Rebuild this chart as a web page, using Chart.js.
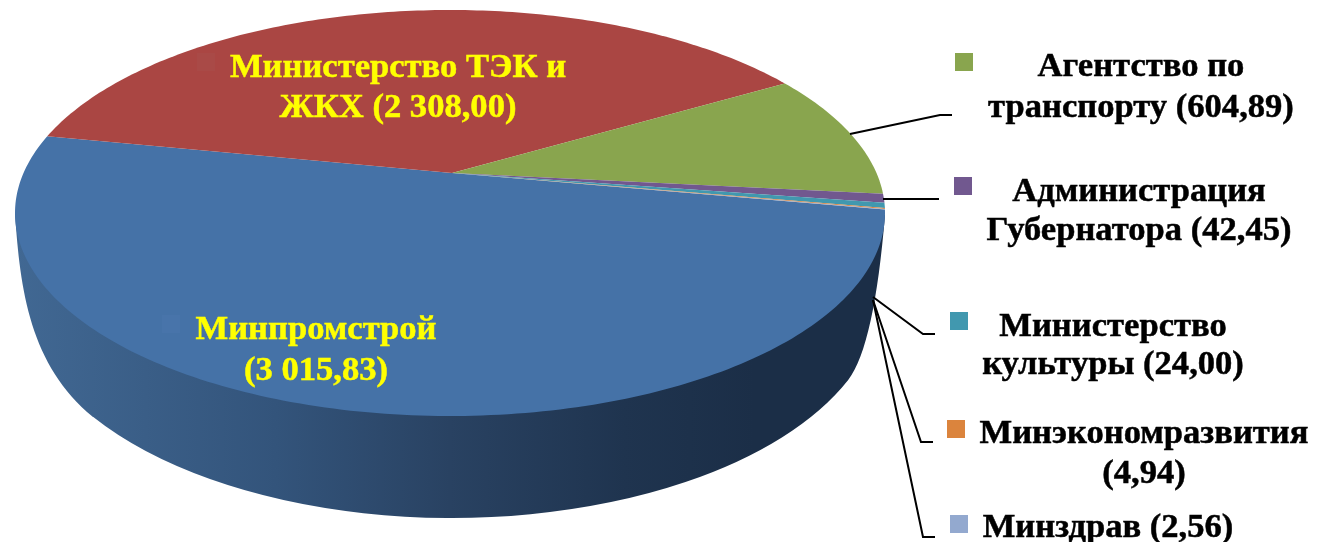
<!DOCTYPE html>
<html>
<head>
<meta charset="utf-8">
<title>Pie</title>
<script src="https://cdn.jsdelivr.net/npm/chart.js@4"></script>
<style>
  html, body { margin: 0; padding: 0; background: #fff; }
  #wrap { width: 1319px; height: 542px; }
  #myChart { filter: blur(0.45px); }
</style>
</head>
<body>
<div id="wrap"><canvas id="myChart" width="1319" height="542"></canvas></div>
<script>
const categories = ['Минпромстрой', 'Министерство ТЭК и ЖКХ', 'Агентство по транспорту', 'Администрация Губернатора', 'Министерство культуры', 'Минэкономразвития', 'Минздрав']
const values = [3015.83, 2308.00, 604.89, 42.45, 24.00, 4.94, 2.56]
const sliceColors = ['#4572A7', '#AA4643', '#89A54E', '#71588F', '#4198AF', '#DB843D', '#93A9CF']
const labelLines = [
    ['Минпромстрой', '(3 015,83)'],
    ['Министерство ТЭК и', 'ЖКХ (2 308,00)'],
    ['Агентство по', 'транспорту (604,89)'],
    ['Администрация', 'Губернатора (42,45)'],
    ['Министерство', 'культуры (24,00)'],
    ['Минэкономразвития', '(4,94)'],
    ['Минздрав (2,56)']
]

// where each label sits: centre x, baseline of every line
const labelPos = [
    { x: 316, y: [339, 380], color: '#ffff00' },
    { x: 398, y: [77, 117], color: '#ffff00' },
    { x: 1141, y: [76, 117], color: '#000' },
    { x: 1139, y: [201, 240], color: '#000' },
    { x: 1113, y: [336, 374], color: '#000' },
    { x: 1144, y: [443, 483], color: '#000' },
    { x: 1108, y: [537], color: '#000' }
]
const swatches = [
    { x: 162, y: 315, color: '#4874aa' },
    { x: 197, y: 53, color: '#a94a47' },
    { x: 955, y: 53 },
    { x: 954, y: 177 },
    { x: 950, y: 312 },
    { x: 947, y: 420 },
    { x: 950, y: 515 }
]
const leaders = [
    null,
    null,
    [[850, 134], [940, 115], [952, 115]],
    [[883, 199], [939, 199]],
    [[873, 297], [923, 334], [935, 334]],
    [[873, 300], [921, 442], [933, 442]],
    [[873, 300], [923, 537], [935, 537]]
]

// top face ellipse, c moves the apex off centre like the perspective in the picture
const topFace = { x: 450, y: 213, rx: 435, ry: 203, c: -0.197 }
const bottomFace = { x: 452, y: 296, rx: 428, ry: 222 }

function project(a) {
    const X = Math.cos(a)
    const Y = Math.sin(a)
    const d = 1 + topFace.c * Y
    return [
        topFace.x + topFace.rx * Math.sqrt(1 - topFace.c * topFace.c) * X / d,
        topFace.y + topFace.ry * (Y + topFace.c) / d
    ]
}

const pie3d = {
    id: 'pie3d',
    beforeDatasetsDraw(chart) {
        const ctx = chart.ctx
        // side wall
        const wall = ctx.createLinearGradient(15, 0, 885, 0)
        wall.addColorStop(0, '#416893')
        wall.addColorStop(0.3, '#33547b')
        wall.addColorStop(0.5, '#294262')
        wall.addColorStop(0.7, '#1f344f')
        wall.addColorStop(0.85, '#1b2e47')
        wall.addColorStop(1, '#1b2e47')
        ctx.save()
        ctx.fillStyle = wall
        ctx.beginPath()
        ctx.moveTo(15, 213)
        ctx.bezierCurveTo(20, 290, 30, 365, 93, 417)
        ctx.ellipse(bottomFace.x, bottomFace.y, bottomFace.rx, bottomFace.ry, 0, Math.PI - 0.577, 0.388, true)
        ctx.bezierCurveTo(866, 357, 878, 300, 885, 215)
        ctx.closePath()
        ctx.fill()
        // slices from the angles the library worked out
        chart.getDatasetMeta(0).data.forEach((arc, i) => {
            const steps = Math.max(2, Math.ceil((arc.endAngle - arc.startAngle) * 60))
            ctx.beginPath()
            ctx.moveTo(topFace.x + 2, topFace.y + topFace.ry * topFace.c)
            for (let s = 0; s <= steps; s++) {
                const p = project(arc.startAngle + (arc.endAngle - arc.startAngle) * s / steps)
                ctx.lineTo(p[0], p[1])
            }
            ctx.closePath()
            ctx.fillStyle = sliceColors[i]
            ctx.fill()
        })
        ctx.restore()
        return false
    },
    afterDraw(chart) {
        const ctx = chart.ctx
        ctx.save()
        ctx.strokeStyle = '#000'
        ctx.lineWidth = 2
        leaders.forEach(pts => {
            if (!pts) return
            ctx.beginPath()
            pts.forEach((p, i) => i ? ctx.lineTo(p[0], p[1]) : ctx.moveTo(p[0], p[1]))
            ctx.stroke()
        })
        swatches.forEach((s, i) => {
            ctx.fillStyle = s.color || sliceColors[i]
            ctx.fillRect(s.x, s.y, 18, 18)
        })
        ctx.font = 'bold 34.6px "Liberation Serif"'
        ctx.textAlign = 'center'
        ctx.textBaseline = 'alphabetic'
        ctx.lineWidth = 0.5
        labelLines.forEach((lines, i) => {
            ctx.fillStyle = labelPos[i].color
            ctx.strokeStyle = labelPos[i].color
            lines.forEach((line, j) => {
                ctx.fillText(line, labelPos[i].x, labelPos[i].y[j])
                ctx.strokeText(line, labelPos[i].x, labelPos[i].y[j])
            })
        })
        ctx.restore()
    }
}

let myChart = new Chart(document.getElementById('myChart').getContext('2d'), {
    type: 'pie',
    data: {
        labels: categories,
        datasets: [{
            data: values,
            backgroundColor: sliceColors,
            borderWidth: 0
        }]
    },
    options: {
        responsive: false,
        animation: false,
        rotation: 100.4,
        plugins: {
            legend: { display: false },
            tooltip: { enabled: false }
        }
    },
    plugins: [pie3d]
})
</script>
</body>
</html>
